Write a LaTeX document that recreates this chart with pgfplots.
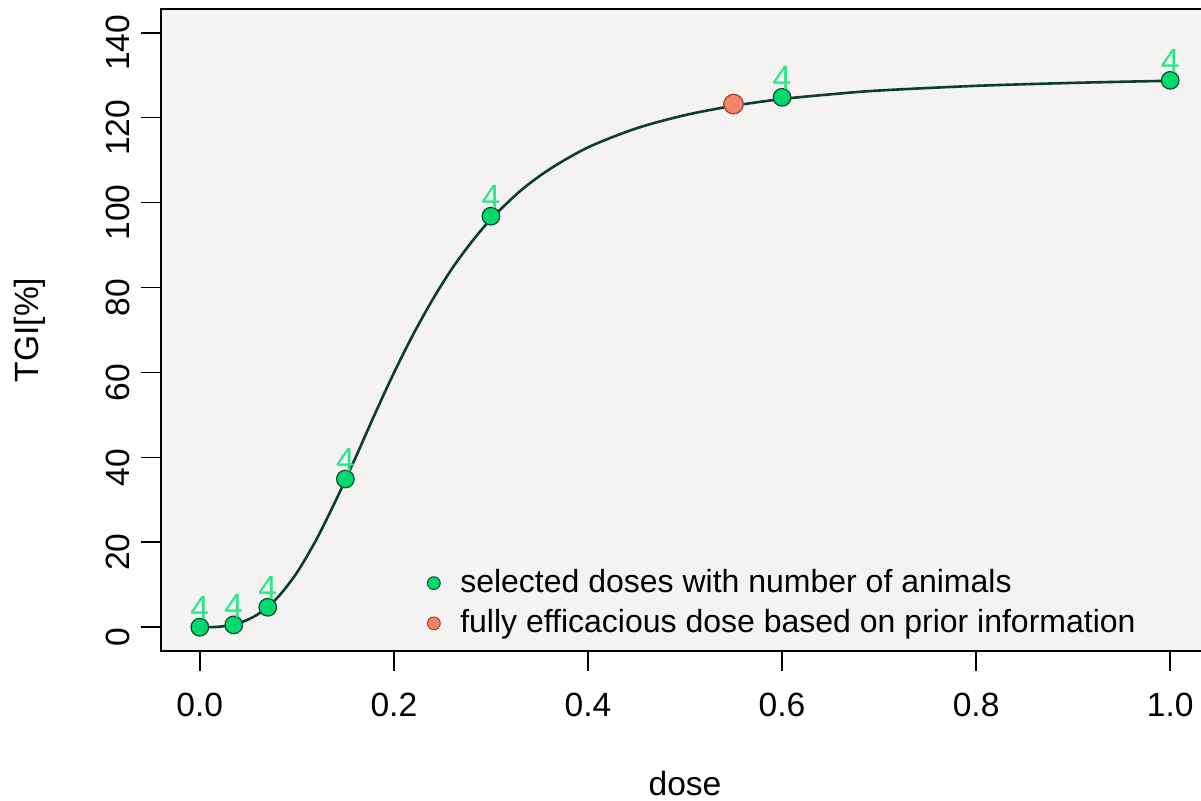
\documentclass[border=0pt]{standalone}
\usepackage{fontspec}
\setmainfont{Liberation Sans}
\usepackage{pgfplots}
\pgfplotsset{compat=1.18}

\definecolor{panelbg}{HTML}{F4F3F2}
\definecolor{curvecol}{HTML}{0B3D30}
\definecolor{ptfill}{HTML}{00D96C}
\definecolor{ptedge}{HTML}{0E4A30}
\definecolor{numcol}{HTML}{2EE68A}
\definecolor{efffill}{HTML}{F08466}
\definecolor{effedge}{HTML}{A0402E}

\begin{document}
\begin{tikzpicture}[x=1pt,y=1pt]
\fontsize{16.8}{20}\selectfont
\begin{axis}[
  at={(80.5pt,-325.5pt)}, anchor=south west,
  scale only axis,
  width=524pt, height=321pt,
  xmin=-0.04, xmax=1.04,
  ymin=-5.6, ymax=145.6,
  axis background/.style={fill=panelbg},
  axis line style={black, line width=0.8pt},
  tick pos=left,
  tick align=outside,
  major tick length=10pt,
  tick style={black, line width=0.8pt},
  xtick={0,0.2,0.4,0.6,0.8,1.0},
  xticklabels={0.0,0.2,0.4,0.6,0.8,1.0},
  ytick={0,20,40,60,80,100,120,140},
  /pgf/number format/assume math mode=true,
  tick label style={font=\fontsize{16.8}{20}\selectfont},
  xticklabel style={yshift=-5pt},
  yticklabel style={rotate=90, anchor=south, xshift=-5pt},
  xlabel={dose},
  ylabel={TGI[\%]},
  label style={font=\fontsize{16.8}{20}\selectfont},
  xlabel style={at={(axis description cs:0.5,-0.206)}, anchor=center},
  ylabel style={at={(axis description cs:-0.1255,0.5)}, anchor=center, rotate=0},
  legend style={draw=none, fill=none, at={(axis cs:0.228,-4.4)}, anchor=south west,
    font=\fontsize{16}{19}\selectfont, row sep=2pt,
    /tikz/every odd column/.append style={column sep=8pt}},
  legend cell align=left,
  clip=false,
]
% fitted dose-response curve
\addplot[curvecol, line width=1.3pt, smooth, forget plot] coordinates {
  (0.00,0.00) (0.02,0.12) (0.04,0.94) (0.06,3.07) (0.08,6.96)
  (0.10,12.84) (0.12,20.6) (0.14,29.8) (0.16,39.7) (0.18,50.0)
  (0.20,59.9) (0.22,69.0) (0.24,77.2) (0.26,84.5) (0.28,90.7)
  (0.30,96.1) (0.33,102.7) (0.36,107.8) (0.40,113.0) (0.45,117.5)
  (0.50,120.6) (0.55,122.8) (0.60,124.4) (0.65,125.5) (0.70,126.4)
  (0.80,127.5) (0.90,128.2) (1.00,128.7)
};
\addlegendimage{only marks, mark=*, mark size=3.2pt,
  mark options={fill=ptfill, draw=ptedge, line width=0.5pt}}
\addlegendentry{selected doses with number of animals}
\addlegendimage{only marks, mark=*, mark size=3.2pt,
  mark options={fill=efffill, draw=effedge, line width=0.5pt}}
\addlegendentry{fully efficacious dose based on prior information}
% fully efficacious dose
\addplot[only marks, mark=*, mark size=4.9pt,
  mark options={fill=efffill, draw=effedge, line width=0.6pt}, forget plot]
  coordinates {(0.55,123.2)};
% selected doses, each with 4 animals
\addplot[only marks, mark=*, mark size=4.4pt,
  mark options={fill=ptfill, draw=ptedge, line width=0.6pt}, forget plot,
  nodes near coords={4},
  every node near coord/.append style={text=numcol, anchor=south, inner sep=1pt, yshift=2.5pt,
    font=\fontsize{16.8}{20}\selectfont}]
  coordinates {(0,0) (0.035,0.55) (0.07,4.7) (0.15,34.9) (0.30,96.8) (0.60,124.8) (1.0,128.8)};
\end{axis}
\pgfresetboundingbox
\path[use as bounding box] (0,0) rectangle (600.5pt,-400.5pt);
\end{tikzpicture}
\end{document}
